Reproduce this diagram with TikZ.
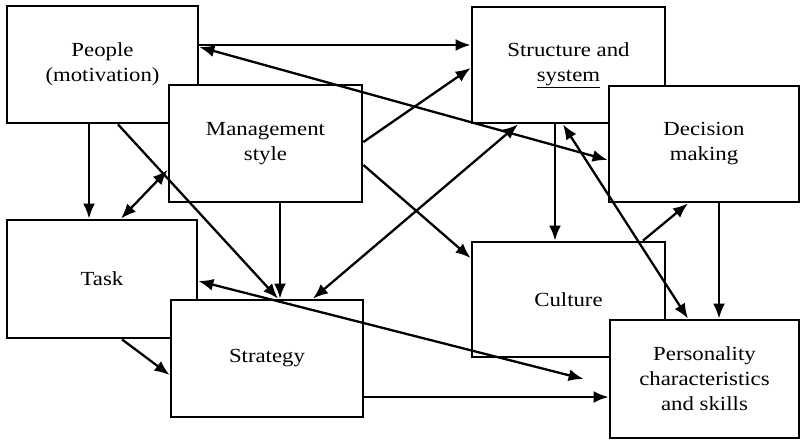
\documentclass[tikz,border=0pt]{standalone}
\usepackage{fontspec}
\setmainfont{Liberation Serif}[FakeStretch=1.14]
\usetikzlibrary{arrows.meta,calc}
\begin{document}
\begin{tikzpicture}[x=1pt,y=1pt,
  factor/.style={draw=black,fill=white,line width=2.8pt,inner sep=0pt,
    align=center,font=\fontsize{20}{25}\selectfont},
  link/.style={line width=2.3pt,-{Latex[length=15pt,width=12pt]}},
  twoway/.style={line width=2.3pt,{Latex[length=15pt,width=12pt]}-{Latex[length=15pt,width=12pt]}}]
\useasboundingbox (0,0) rectangle (801,440);

% factor boxes (later ones overlap earlier ones)
\node[factor,minimum width=191pt,minimum height=117pt] (people) at (102.5,375.5) {People\\(motivation)};
\node[factor,minimum width=193pt,minimum height=117pt] (mgmt) at (265.5,296.5) {Management\\style};
\node[factor,minimum width=193pt,minimum height=116pt] (struct) at (568.5,375) {Structure and\\\underline{system}};
\node[factor,minimum width=190pt,minimum height=116pt] (decision) at (704,296) {Decision\\making};
\node[factor,minimum width=190pt,minimum height=118pt] (task) at (102,161) {Task};
\node[factor,minimum width=192pt,minimum height=117pt] (strategy) at (267,81.5) {Strategy};
\node[factor,minimum width=193pt,minimum height=115pt] (culture) at (568.5,140.5) {Culture};
\node[factor,minimum width=189pt,minimum height=118pt] (skills) at (704.5,61) {Personality\\characteristics\\and skills};

\coordinate (skillsgap) at ([xshift=-25pt]skills.west);

% connectors
\draw[link] ([yshift=19.5pt]people.east) -- ([yshift=19.5pt]people.east -| struct.west);
\draw[twoway] ([yshift=17.5pt]people.east) -- ([yshift=-16pt]decision.west);
\draw[link] ([xshift=-13.5pt]people.south) -- ([xshift=-13.5pt]people.south |- task.north);
\draw[twoway] ([yshift=-26.5pt]mgmt.west) -- ([xshift=19pt]task.north);
\draw[link] ([xshift=15.5pt]people.south) -- ([xshift=11pt]strategy.north);
\draw[link] ([xshift=14.5pt]mgmt.south) -- ([xshift=14.5pt]mgmt.south |- strategy.north);
\draw[twoway] ([yshift=-2pt]task.east) -- (skillsgap);
\draw[twoway] ([xshift=-50.5pt]struct.south) -- ([xshift=46pt]strategy.north);
\draw[link] ([yshift=1.5pt]mgmt.east) -- ([yshift=-3pt]struct.west);
\draw[link] ([yshift=-21.5pt]mgmt.east) -- ([yshift=41.5pt]culture.west);
\draw[link] ([xshift=-13.5pt]struct.south) -- ([xshift=-13.5pt]struct.south |- culture.north);
\draw[twoway] ([xshift=-5.5pt]struct.south) -- ([xshift=-16.5pt]skills.north);
\draw[link] ([xshift=74.5pt]culture.north) -- ([xshift=-16pt]decision.south);
\draw[link] ([xshift=15pt]decision.south) -- ([xshift=15pt]decision.south |- skills.north);
\draw[link] ([yshift=-38.5pt]strategy.east) -- ([yshift=-38.5pt]strategy.east -| skills.west);
\draw[link] ([xshift=20pt]task.south) -- ([yshift=-16.5pt]strategy.west);
\end{tikzpicture}
\end{document}
